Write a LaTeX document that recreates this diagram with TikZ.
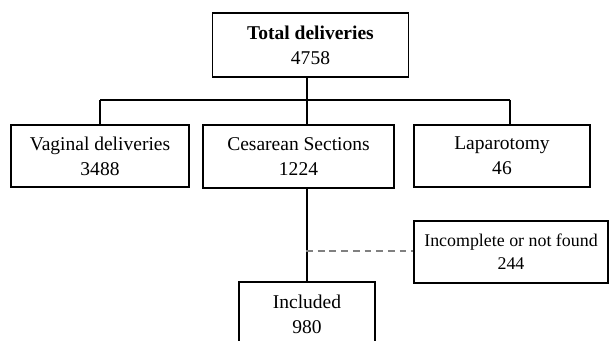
\documentclass[tikz,border=0pt]{standalone}
\usepackage{fontspec}
\setmainfont{Liberation Serif}
\usepackage{tikz}

\tikzset{
  box/.style={draw,line width=0.7pt,align=center,inner sep=0pt,
    font=\fontsize{12}{15.2}\selectfont},
  link/.style={line width=0.9pt},
  skip/.style={line width=0.9pt,black!50,dash pattern=on 4.2pt off 3pt}
}

\begin{document}
\begin{tikzpicture}[x=0.615pt,y=-0.615pt]
  \clip (0,0) rectangle (609,341);
  % boxes
  \node[box,minimum width=121pt,minimum height=39.4pt] (total) at (310.5,45) {\textbf{Total deliveries}\\4758};
  \node[box,minimum width=109.5pt,minimum height=38.1pt] (vag) at (100,156) {Vaginal deliveries\\3488};
  \node[box,minimum width=117.5pt,minimum height=38.7pt] (ces) at (298.5,156.5) {Cesarean Sections\\1224};
  \node[box,minimum width=108.2pt,minimum height=38.1pt] (lap) at (502,156) {Laparotomy\\46};
  \node[box,minimum width=119.3pt,minimum height=38.1pt,font=\fontsize{11}{14}\selectfont] (inc) at (511,252) {Incomplete or not found\\244};
  \node[box,minimum width=83.6pt,minimum height=39.4pt] (incl) at (307,314) {Included\\980};
  % tree lines
  \coordinate (jl) at (100,100);
  \coordinate (jm) at (307,100);
  \coordinate (jr) at (510,100);
  \draw[link] (total.south -| jm) -- (jm);
  \draw[link] (jl) -- (jr);
  \draw[link] (jl) -- (vag.north -| jl);
  \draw[link] (jm) -- (ces.north -| jm);
  \draw[link] (jr) -- (lap.north -| jr);
  \draw[link] (ces.south -| incl) -- (incl.north);
  % excluded
  \coordinate (dj) at (306,251);
  \draw[skip] (dj) -- (dj -| inc.west);
\end{tikzpicture}
\end{document}
